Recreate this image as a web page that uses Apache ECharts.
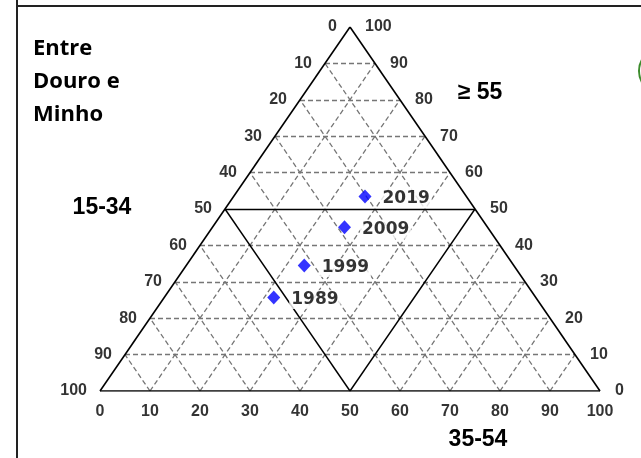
<!DOCTYPE html>
<html>
<head>
<meta charset="utf-8">
<script src="https://cdn.jsdelivr.net/npm/echarts@6/dist/echarts.min.js"></script>
<style>
html,body{margin:0;padding:0;background:#fff;}
#chart{width:641px;height:458px;}
</style>
</head>
<body>
<div id="chart"></div>
<script>
// ---- data (percentages) ----
const years = ['1989', '1999', '2009', '2019'];
const share15to34 = [52.4, 41.9, 28.6, 20.3];
const share35to54 = [21.9, 23.6, 26.4, 26.3];
const share55plus = [25.7, 34.5, 45.0, 53.4];

const tickValues = [0, 10, 20, 30, 40, 50, 60, 70, 80, 90, 100];
const gridSteps = [10, 20, 30, 40, 60, 70, 80, 90];
const medianStep = 50;

const regionTitle = ['Entre', 'Douro e', 'Minho'];
const axisTitleLeft = '15-34';
const axisTitleRight = '\u2265 55';
const axisTitleBottom = '35-54';

// ternary (a = 15-34, b = 35-54, c = >=55) -> cartesian on a 0..100 value grid
function tern(a, b, c) { return [b + c / 2, c]; }

function constC(k) { return [tern(100 - k, 0, k), tern(0, 100 - k, k)]; }
function constB(k) { return [tern(100 - k, k, 0), tern(0, k, 100 - k)]; }
function constA(k) { return [tern(k, 100 - k, 0), tern(k, 0, 100 - k)]; }

const dashedSegs = [];
gridSteps.forEach(k => {
  dashedSegs.push({ coords: constC(k) });
  dashedSegs.push({ coords: constB(k) });
  dashedSegs.push({ coords: constA(k) });
});
const solidSegs = [
  { coords: constC(medianStep) },
  { coords: constB(medianStep) },
  { coords: constA(medianStep) }
];
const outline = [
  { coords: [tern(100, 0, 0), tern(0, 100, 0)] },
  { coords: [tern(0, 100, 0), tern(0, 0, 100)] },
  { coords: [tern(0, 0, 100), tern(100, 0, 0)] }
];

const pointData = years.map((y, i) => ({
  name: y,
  value: tern(share15to34[i], share35to54[i], share55plus[i])
}));

// tick labels
const leftTicks = tickValues.map(c => ({ value: tern(100 - c, 0, c), label: String(100 - c) }));
const rightTicks = tickValues.map(c => ({ value: tern(0, 100 - c, c), label: String(c) }));
const bottomTicks = tickValues.map(b => ({ value: tern(100 - b, b, 0), label: String(b) }));

const tickFont = { fontFamily: '"Liberation Sans", Arial, sans-serif', fontWeight: 'bold', fontSize: 16, color: '#000' };

function tickSeries(list, position, distance) {
  return {
    type: 'scatter',
    symbolSize: 0,
    silent: true,
    z: 5,
    data: list.map(t => ({ value: t.value, name: t.label })),
    label: Object.assign({ show: true, position: position, distance: distance, formatter: p => p.name }, tickFont)
  };
}

const chart = echarts.init(document.getElementById('chart'), null, { renderer: 'canvas' });
chart.setOption({
  animation: false,
  backgroundColor: '#fff',
  grid: { left: 100, right: 41, top: 27, bottom: 67 },
  xAxis: { type: 'value', min: 0, max: 100, show: false },
  yAxis: { type: 'value', min: 0, max: 100, show: false },
  graphic: [
    { type: 'line', shape: { x1: 17, y1: 0, x2: 17, y2: 458 }, style: { stroke: '#222', lineWidth: 2 } },
    { type: 'line', shape: { x1: 16, y1: 6, x2: 641, y2: 6 }, style: { stroke: '#222', lineWidth: 2 } },
    { type: 'circle', shape: { cx: 662, cy: 71, r: 23 }, style: { fill: 'none', stroke: '#3c8c2c', lineWidth: 2 } },
    { type: 'text', left: 33, top: 32, style: { text: regionTitle.join('\n'), font: 'bold 22px "Open Sans", sans-serif', lineHeight: 33, fill: '#000' } },
    { type: 'text', x: 102, y: 208, style: { text: axisTitleLeft, font: 'bold 23px "Liberation Sans", Arial, sans-serif', fill: '#000', align: 'center', verticalAlign: 'middle' } },
    { type: 'text', x: 480, y: 93, style: { text: axisTitleRight, font: 'bold 23px "Liberation Sans", Arial, sans-serif', fill: '#000', align: 'center', verticalAlign: 'middle' } },
    { type: 'text', x: 478, y: 440, style: { text: axisTitleBottom, font: 'bold 23px "Liberation Sans", Arial, sans-serif', fill: '#000', align: 'center', verticalAlign: 'middle' } }
  ],
  series: [
    {
      type: 'lines', coordinateSystem: 'cartesian2d', silent: true, z: 1,
      data: dashedSegs,
      lineStyle: { color: '#767676', width: 1.3, type: [5, 3], opacity: 1 }
    },
    {
      type: 'lines', coordinateSystem: 'cartesian2d', silent: true, z: 2,
      data: solidSegs,
      lineStyle: { color: '#000', width: 1.4, type: 'solid', opacity: 1 }
    },
    {
      type: 'lines', coordinateSystem: 'cartesian2d', silent: true, z: 2,
      data: outline,
      lineStyle: { color: '#000', width: 1.6, type: 'solid', opacity: 1 }
    },
    tickSeries(leftTicks, 'left', 13),
    tickSeries(rightTicks, 'right', 15),
    tickSeries(bottomTicks, 'bottom', 13),
    {
      type: 'scatter', z: 10,
      symbol: 'diamond', symbolSize: [13, 14],
      itemStyle: { color: '#0000ff' },
      data: pointData,
      label: {
        show: true, position: 'right', distance: 9, offset: [0, 2],
        formatter: p => p.name,
        fontFamily: '"DejaVu Sans", Verdana, sans-serif', fontWeight: 'bold', fontSize: 17, color: '#000',
        backgroundColor: '#fff', padding: [1, 2]
      }
    }
  ]
});
</script>
</body>
</html>
